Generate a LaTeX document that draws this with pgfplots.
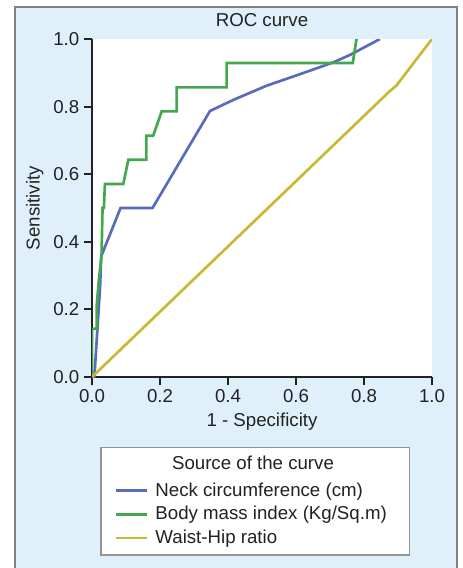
\documentclass[border=0pt]{standalone}
\usepackage{fontspec}
\setmainfont{Liberation Sans}
\usepackage{pgfplots}
\pgfplotsset{compat=1.18}
\definecolor{bgblue}{RGB}{223,240,250}
\definecolor{cneck}{RGB}{90,106,189}
\definecolor{cbmi}{RGB}{67,168,77}
\definecolor{cwhr}{RGB}{201,184,52}
\definecolor{txt}{RGB}{34,34,34}
\newcommand{\fs}{\fontsize{14}{16}\selectfont}
\def\pxu{0.75pt}

\begin{document}
\begin{tikzpicture}
\useasboundingbox (0,0) rectangle (463*\pxu,-568*\pxu);
% panel background and frame
\fill[bgblue] (15*\pxu,-7*\pxu) rectangle (457*\pxu,-600*\pxu);
\draw[gray, line width=0.9pt] (15*\pxu,-600*\pxu) -- (15*\pxu,-7*\pxu) -- (457*\pxu,-7*\pxu) -- (457*\pxu,-600*\pxu);
% legend box
\draw[gray!85, fill=white, line width=0.8pt] (101*\pxu,-447.5*\pxu) rectangle (409.5*\pxu,-555*\pxu);
\node[font=\fs, text=txt] at (253*\pxu,-463*\pxu) {Source of the curve};

\begin{axis}[
    at={(92*\pxu,-377*\pxu)}, anchor=south west,
    scale only axis,
    width=340*\pxu, height=338*\pxu,
    xmin=0, xmax=1, ymin=0, ymax=1,
    axis lines*=left,
    axis line style={line width=1.7pt, color=txt},
    axis background/.style={fill=white},
    xtick={0,0.2,0.4,0.6,0.8,1.0},
    ytick={0,0.2,0.4,0.6,0.8,1.0},
    tick align=outside,
    major tick length=6pt,
    tick style={line width=1.5pt, color=txt},
    ticklabel style={font=\fs, text=txt},
    /pgf/number format/.cd, fixed, fixed zerofill, precision=1, assume math mode=true,
    /pgfplots/.cd,
    title={ROC curve},
    title style={font=\fs, text=txt, at={(axis description cs:0.5,1.032)}, anchor=center},
    xlabel={1 - Specificity},
    ylabel={Sensitivity},
    xlabel style={font=\fs, text=txt, at={(axis description cs:0.5,-0.133)}, anchor=center},
    ylabel style={font=\fs, text=txt, at={(axis description cs:-0.168,0.5)}, anchor=center},
    legend style={at={(axis description cs:0.053,-0.3)}, anchor=north west,
        draw=none, fill=none, font=\fs, text=txt, row sep=4.2pt,
        nodes={inner sep=1pt}},
    legend cell align=left,
    legend image code/.code={\draw[#1] (0cm,0cm) -- (0.82cm,0cm); \path (0.98cm,0cm);},
]
\addplot[cneck, line width=2pt] coordinates {
    (0,0) (0.007,0) (0.024,0.27) (0.027,0.357) (0.084,0.5) (0.178,0.5)
    (0.347,0.787) (0.416,0.82) (0.514,0.862) (0.612,0.896) (0.71,0.931)
    (0.759,0.953) (0.847,1.0)
};
\addlegendentry{Neck circumference (cm)}
\addplot[cbmi, line width=2pt] coordinates {
    (0,0) (0,0.143) (0.014,0.143) (0.014,0.214) (0.02,0.286) (0.028,0.357)
    (0.031,0.5) (0.035,0.5) (0.038,0.571) (0.092,0.571) (0.107,0.643)
    (0.16,0.643) (0.16,0.714) (0.18,0.714) (0.205,0.786) (0.249,0.786)
    (0.249,0.857) (0.396,0.857) (0.396,0.929) (0.767,0.929) (0.778,1.0)
};
\addlegendentry{Body mass index (Kg/Sq.m)}
\addplot[cwhr, line width=2pt] coordinates {
    (0,0) (0.875,0.845) (0.895,0.862) (1,1)
};
\addlegendentry{Waist-Hip ratio}
\end{axis}
\end{tikzpicture}
\end{document}
